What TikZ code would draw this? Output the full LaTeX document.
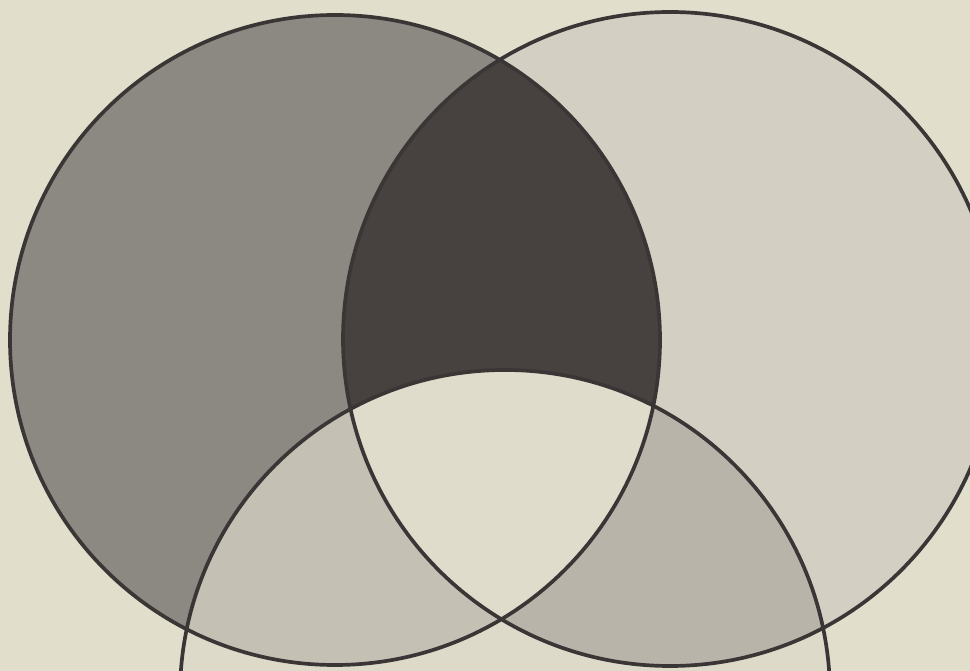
\documentclass[tikz,border=0pt]{standalone}
\definecolor{paper}{HTML}{E2DECC}
\definecolor{leftonly}{HTML}{8C8983}
\definecolor{lens}{HTML}{47423F}
\definecolor{rightonly}{HTML}{D3CFC3}
\definecolor{bottomonly}{HTML}{DEDACA}
\definecolor{lb}{HTML}{C4C0B4}
\definecolor{rb}{HTML}{B8B4AA}
\definecolor{triple}{HTML}{E0DCCC}
\definecolor{ink}{HTML}{3A3636}
\tikzset{ring/.style={draw=ink, line width=2.1pt}}
\begin{document}
\begin{tikzpicture}[x=0.02cm,y=-0.02cm]
\useasboundingbox (0,0) rectangle (970,671);
\begin{scope}
\clip (0,0) rectangle (970,671);
\fill[paper] (0,0) rectangle (970,671);
% circle definitions
\def\Lc{(335,340) circle (325)}
\def\Rc{(670,339) circle (327)}
\def\Bc{(505,695) circle (325)}
\fill[leftonly] \Lc;
\fill[rightonly] \Rc;
\fill[bottomonly] \Bc;
\begin{scope}\clip \Lc; \fill[lens] \Rc; \end{scope}
\begin{scope}\clip \Lc; \fill[lb] \Bc; \end{scope}
\begin{scope}\clip \Rc; \fill[rb] \Bc; \end{scope}
\begin{scope}\clip \Lc; \clip \Rc; \fill[triple] \Bc; \end{scope}
\draw[ring] \Lc;
\draw[ring] \Rc;
\draw[ring] \Bc;
\end{scope}
\end{tikzpicture}
\end{document}
